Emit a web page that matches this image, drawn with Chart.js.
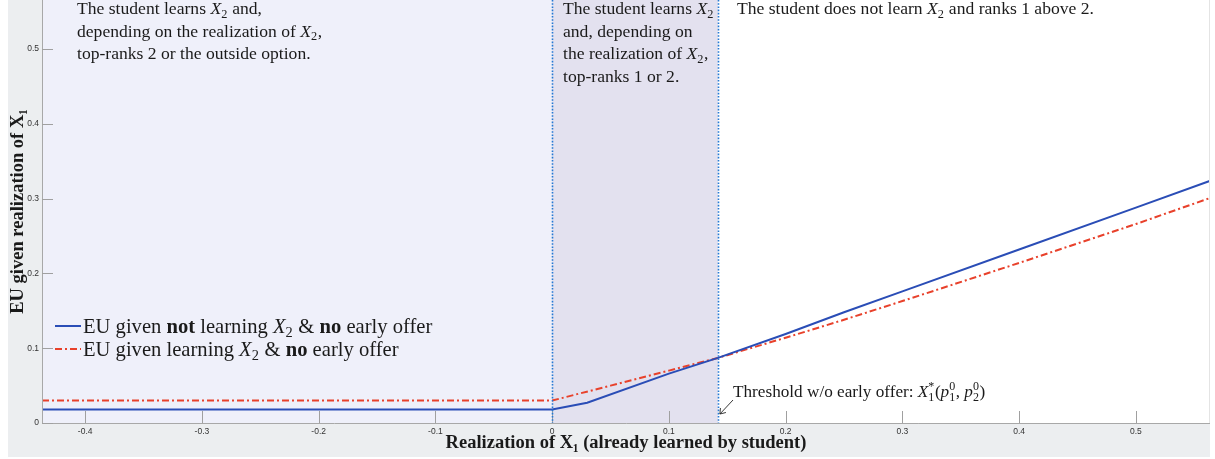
<!DOCTYPE html>
<html><head><meta charset="utf-8">
<script src="https://cdn.jsdelivr.net/npm/chart.js@4/dist/chart.umd.min.js"></script>
<style>html,body{margin:0;padding:0;background:#fff;overflow:hidden}#wrap{width:1215px;height:459px;position:relative}</style>
</head><body><div id="wrap"><canvas id="c" width="1215" height="459"></canvas></div>
<script>
// ---- data ----
const xNotLearning  = [-0.437, 0, 0.03, 0.1, 0.142, 0.2, 0.25, 0.3, 0.4, 0.5, 0.564];
const euNotLearning = [0.018, 0.018, 0.027, 0.066, 0.087, 0.119, 0.148, 0.176, 0.232, 0.288, 0.324];
const xLearning     = [-0.437, 0, 0.05, 0.1, 0.142, 0.2, 0.25, 0.3, 0.4, 0.5, 0.564];
const euLearning    = [0.030, 0.030, 0.050, 0.070, 0.087, 0.114, 0.138, 0.163, 0.214, 0.266, 0.301];
const regionBounds  = [0, 0.142];          // learn-X2 region / threshold w/o early offer
const xRange = [-0.437, 0.5635];
const yRange = [0, 0.5655];
const tickStep = 0.1;

const SERIF = '"Liberation Serif", "DejaVu Serif", serif';
const SANS = '"Liberation Sans", Arial, sans-serif';
const TXT = '#1a1a1a';

function drawRich(ctx, segs, x, y, size, family) {
  ctx.textAlign = 'left'; ctx.textBaseline = 'alphabetic';
  for (const s of segs) {
    if (s.sub !== undefined || s.sup !== undefined) {
      const fs = size * 0.7;
      ctx.font = `${fs}px ${family}`;
      let w = 0;
      if (s.sub !== undefined) { ctx.fillText(s.sub, x, y + size * 0.22); w = Math.max(w, ctx.measureText(s.sub).width); }
      if (s.sup !== undefined) { ctx.fillText(s.sup, x, y - size * 0.38); w = Math.max(w, ctx.measureText(s.sup).width); }
      x += w + 0.5;
      continue;
    }
    ctx.font = `${s.i ? 'italic ' : ''}${s.b ? 'bold ' : ''}${size}px ${family}`;
    ctx.fillText(s.t, x, y);
    x += ctx.measureText(s.t).width;
  }
  return x;
}

const annotations = [
  { x: 77, y: 14, size: 17.6, lines: [
    [{t:'The student learns '},{t:'X',i:1},{sub:'2'},{t:' and,'}],
    [{t:'depending on the realization of '},{t:'X',i:1},{sub:'2'},{t:','}],
    [{t:'top-ranks 2 or the outside option.'}]
  ]},
  { x: 563, y: 14, size: 17.6, lines: [
    [{t:'The student learns '},{t:'X',i:1},{sub:'2'}],
    [{t:'and, depending on'}],
    [{t:'the realization of '},{t:'X',i:1},{sub:'2'},{t:','}],
    [{t:'top-ranks 1 or 2.'}]
  ]},
  { x: 737, y: 14, size: 17.6, lines: [
    [{t:'The student does not learn '},{t:'X',i:1},{sub:'2'},{t:' and ranks 1 above 2.'}]
  ]},
  { x: 733, y: 397, size: 17.2, lines: [
    [{t:'Threshold w/o early offer: '},{t:'X',i:1},{sub:'1',sup:'*'},{t:'('},{t:'p',i:1},{sub:'1',sup:'0'},{t:', '},{t:'p',i:1},{sub:'2',sup:'0'},{t:')'}]
  ]}
];
const legendLines = [
  [{t:'EU given '},{t:'not',b:1},{t:' learning '},{t:'X',i:1},{sub:'2'},{t:' & '},{t:'no',b:1},{t:' early offer'}],
  [{t:'EU given learning '},{t:'X',i:1},{sub:'2'},{t:' & '},{t:'no',b:1},{t:' early offer'}]
];

const decor = {
  id: 'decor',
  beforeDraw(chart) {
    const {ctx, chartArea: a, scales: {x}} = chart;
    ctx.save();
    ctx.fillStyle = '#ffffff'; ctx.fillRect(0, 0, 1215, 459);
    ctx.fillStyle = '#eceef0'; ctx.fillRect(8, 0, a.right - 8, 457);
    const x0 = x.getPixelForValue(regionBounds[0]);
    const x1 = x.getPixelForValue(regionBounds[1]);
    ctx.fillStyle = '#eff0fa'; ctx.fillRect(a.left, a.top, x0 - a.left, a.bottom - a.top);
    ctx.fillStyle = '#e3e1ef'; ctx.fillRect(x0, a.top, x1 - x0, a.bottom - a.top);
    ctx.fillStyle = '#ffffff'; ctx.fillRect(x1, a.top, a.right - x1, a.bottom - a.top);
    ctx.restore();
  },
  afterDatasetsDraw(chart) {
    const {ctx, chartArea: a, scales: {x, y}} = chart;
    ctx.save();
    ctx.strokeStyle = '#a8a8a8'; ctx.lineWidth = 1;
    ctx.beginPath();
    ctx.moveTo(a.left + 0.5, a.top); ctx.lineTo(a.left + 0.5, a.bottom + 0.5);
    ctx.lineTo(a.right, a.bottom + 0.5);
    ctx.stroke();
    ctx.strokeStyle = '#e4e4e4';
    ctx.beginPath(); ctx.moveTo(a.right - 0.5, a.top); ctx.lineTo(a.right - 0.5, a.bottom); ctx.stroke();
    ctx.strokeStyle = '#a0a0a0';
    ctx.beginPath();
    x.ticks.forEach(t => { const px = Math.round(x.getPixelForValue(t.value)) + 0.5; ctx.moveTo(px, a.bottom); ctx.lineTo(px, a.bottom - 12); });
    y.ticks.forEach(t => { const py = Math.round(y.getPixelForValue(t.value)) + 0.5; ctx.moveTo(a.left, py); ctx.lineTo(a.left + 11, py); });
    ctx.stroke();
    ctx.strokeStyle = '#2478d4'; ctx.lineWidth = 1.6; ctx.setLineDash([1.6, 1.6]);
    regionBounds.forEach(v => {
      const px = Math.round(x.getPixelForValue(v)) + 0.5;
      ctx.beginPath(); ctx.moveTo(px, a.top); ctx.lineTo(px, a.bottom); ctx.stroke();
    });
    ctx.setLineDash([]);
    ctx.restore();
  },
  afterDraw(chart) {
    const {ctx, scales: {x}} = chart;
    ctx.save();
    ctx.fillStyle = TXT;
    annotations.forEach(an => an.lines.forEach((ln, i) => drawRich(ctx, ln, an.x, an.y + i * 22.5, an.size, SERIF)));
    const tx = x.getPixelForValue(regionBounds[1]);
    ctx.strokeStyle = '#222'; ctx.lineWidth = 0.9;
    ctx.beginPath(); ctx.moveTo(733, 400); ctx.lineTo(tx + 2, 414); ctx.stroke();
    ctx.beginPath(); ctx.moveTo(tx + 2, 414); ctx.lineTo(tx + 2.5, 408); ctx.moveTo(tx + 2, 414); ctx.lineTo(tx + 8, 412.5); ctx.stroke();
    chart.data.datasets.forEach((ds, i) => {
      const ly = 326 + i * 23;
      ctx.strokeStyle = ds.borderColor; ctx.lineWidth = ds.borderWidth;
      ctx.setLineDash(ds.borderDash || []);
      ctx.beginPath(); ctx.moveTo(55, ly); ctx.lineTo(81, ly); ctx.stroke();
      ctx.setLineDash([]);
      ctx.fillStyle = TXT;
      drawRich(ctx, legendLines[i], 83, ly + 6.5, 20.6, SERIF);
    });
    ctx.restore();
  }
};

function fmt(v) { const r = Math.round(v * 10) / 10; return r === 0 ? '0' : String(r); }
function noPad(s) { s.paddingTop = 0; s.paddingBottom = 0; s.paddingLeft = 0; s.paddingRight = 0; }

new Chart(document.getElementById('c'), {
  type: 'scatter',
  data: { datasets: [
    { label: 'EU given not learning X2 & no early offer',
      data: xNotLearning.map((v, i) => ({x: v, y: euNotLearning[i]})),
      showLine: true, borderColor: '#2a4db6', borderWidth: 2, pointRadius: 0, tension: 0 },
    { label: 'EU given learning X2 & no early offer',
      data: xLearning.map((v, i) => ({x: v, y: euLearning[i]})),
      showLine: true, borderColor: '#e8412b', borderWidth: 2, borderDash: [7, 3, 2, 3], pointRadius: 0, tension: 0 }
  ]},
  options: {
    responsive: false, animation: false, devicePixelRatio: 1,
    layout: { padding: { left: 0, right: 5, top: 0, bottom: 0 } },
    plugins: { legend: { display: false }, tooltip: { enabled: false } },
    scales: {
      x: { type: 'linear', min: xRange[0], max: xRange[1],
        grid: { display: false, drawTicks: false }, border: { display: false },
        ticks: { stepSize: tickStep, includeBounds: false, autoSkip: false, maxRotation: 0, padding: 4,
          font: { family: SANS, size: 8.5 }, color: '#333', callback: fmt },
        title: { display: true, text: 'Realization of X₁ (already learned by student)',
          font: { family: SERIF, weight: 'bold', size: 18.5 }, color: TXT, padding: { top: 0, bottom: 5 } },
        afterFit(s) { s.height = 36; noPad(s); } },
      y: { type: 'linear', min: yRange[0], max: yRange[1],
        grid: { display: false, drawTicks: false }, border: { display: false },
        ticks: { stepSize: tickStep, includeBounds: false, padding: 3,
          font: { family: SANS, size: 8.5 }, color: '#333', callback: fmt },
        title: { display: true, text: 'EU given realization of X₁',
          font: { family: SERIF, weight: 'bold', size: 18.5 }, color: TXT, padding: { top: 7, bottom: 0 } },
        afterFit(s) { s.width = 42; noPad(s); } }
    }
  },
  plugins: [decor]
});
</script></body></html>
